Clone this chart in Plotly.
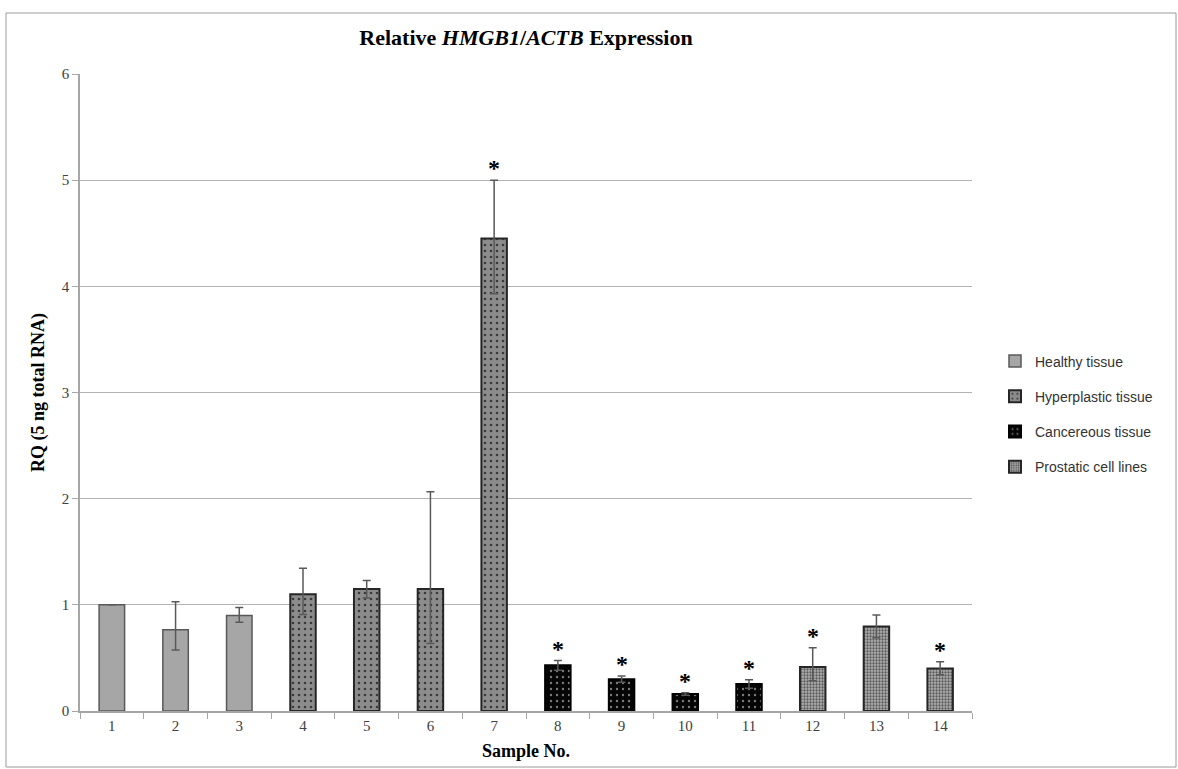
import plotly.graph_objects as go

samples = [str(i) for i in range(1, 15)]
values = [1.00, 0.765, 0.90, 1.10, 1.15, 1.15, 4.45, 0.43, 0.30, 0.16, 0.255, 0.415, 0.795, 0.40]
err_plus = [0.0, 0.265, 0.075, 0.245, 0.08, 0.915, 0.55, 0.045, 0.03, 0.012, 0.04, 0.18, 0.11, 0.065]
err_minus = [0.0, 0.19, 0.065, 0.19, 0.085, 0.515, 0.52, 0.045, 0.03, 0.012, 0.04, 0.13, 0.105, 0.058]
significant = [False, False, False, False, False, False, True, True, True, True, True, True, False, True]

groups = ["Healthy tissue", "Hyperplastic tissue", "Cancereous tissue", "Prostatic cell lines"]
group_idx = [[0, 1, 2], [3, 4, 5, 6], [7, 8, 9, 10], [11, 12, 13]]

styles = [
    dict(color="#a6a6a6", line=dict(color="#595959", width=1.5), pattern=dict(shape="")),
    dict(color="#808080", line=dict(color="#262626", width=2),
         pattern=dict(shape=".", fgcolor="#3a3a3a", bgcolor="#8c8c8c", size=6, solidity=0.15, fillmode="replace")),
    dict(color="#000000", line=dict(color="#000000", width=2),
         pattern=dict(shape=".", fgcolor="#7a7a7a", bgcolor="#050505", size=6, solidity=0.12, fillmode="replace")),
    dict(color="#999999", line=dict(color="#262626", width=2),
         pattern=dict(shape=".", fgcolor="#5a5a5a", bgcolor="#b0b0b0", size=3, solidity=0.45, fillmode="replace")),
]

serif = "Liberation Serif, Times New Roman, serif"
sans = "Liberation Sans, Arial, sans-serif"

fig = go.Figure()
for g, idx, st in zip(groups, group_idx, styles):
    fig.add_trace(go.Bar(
        x=[samples[i] for i in idx],
        y=[values[i] for i in idx],
        name=g,
        legendgroup=g,
        marker=st,
        width=0.4,
        error_y=dict(type="data", symmetric=False,
                     array=[err_plus[i] for i in idx],
                     arrayminus=[err_minus[i] for i in idx],
                     color="#595959", thickness=1.5, width=4),
    ))

for i, (v, ep, sig) in enumerate(zip(values, err_plus, significant)):
    if sig:
        fig.add_annotation(x=i, y=v + ep, text="<b>*</b>", showarrow=False,
                           yanchor="bottom", yshift=-3,
                           font=dict(family=serif, size=24, color="#000000"))

W, H = 1178, 769
L, R, T, B = 80, 206, 74, 58
pw, ph = W - L - R, H - T - B

def px(x):
    return (x - L) / pw

def py(y):
    return (H - B - y) / ph

fig.add_shape(type="rect", xref="paper", yref="paper",
              x0=px(6), x1=px(1176), y0=py(767), y1=py(13),
              line=dict(color="#9a9a9a", width=1), layer="below")

fig.update_layout(
    width=W, height=H,
    margin=dict(l=L, r=R, t=T, b=B),
    plot_bgcolor="white", paper_bgcolor="white",
    barmode="overlay",
    title=dict(text="<b>Relative <i>HMGB1</i>/<i>ACTB</i> Expression</b>",
               x=px(526), xref="paper", xanchor="center",
               y=1 - 37 / H, yanchor="middle",
               font=dict(family=serif, size=22, color="#000000")),
    xaxis=dict(type="category", categoryorder="array", categoryarray=samples,
               range=[-0.5, 13.5],
               showline=True, linecolor="#a6a6a6", linewidth=1.5,
               ticks="outside", tickson="boundaries", ticklen=6, tickcolor="#a6a6a6",
               tickfont=dict(family=serif, size=15, color="#404040"),
               title=dict(text="<b>Sample No.</b>", standoff=12,
                          font=dict(family=serif, size=18, color="#000000")),
               showgrid=False),
    yaxis=dict(range=[0, 6], dtick=1,
               showline=True, linecolor="#a6a6a6", linewidth=1.5,
               ticks="outside", ticklen=6, tickcolor="#a6a6a6",
               tickfont=dict(family=serif, size=15, color="#404040"),
               showgrid=True, gridcolor="#b3b3b3", gridwidth=1,
               zeroline=False,
               title=dict(text="<b>RQ (5 ng total RNA)</b>", standoff=12,
                          font=dict(family=serif, size=18, color="#000000"))),
    legend=dict(x=px(995), xanchor="left", y=py(414), yanchor="middle",
                traceorder="grouped", tracegroupgap=14,
                font=dict(family=sans, size=14, color="#333333"),
                bgcolor="rgba(0,0,0,0)", itemwidth=30),
    showlegend=True,
)

fig.write_html("out.html", config={"displayModeBar": False},
               post_script="document.body.style.margin='0px';")
